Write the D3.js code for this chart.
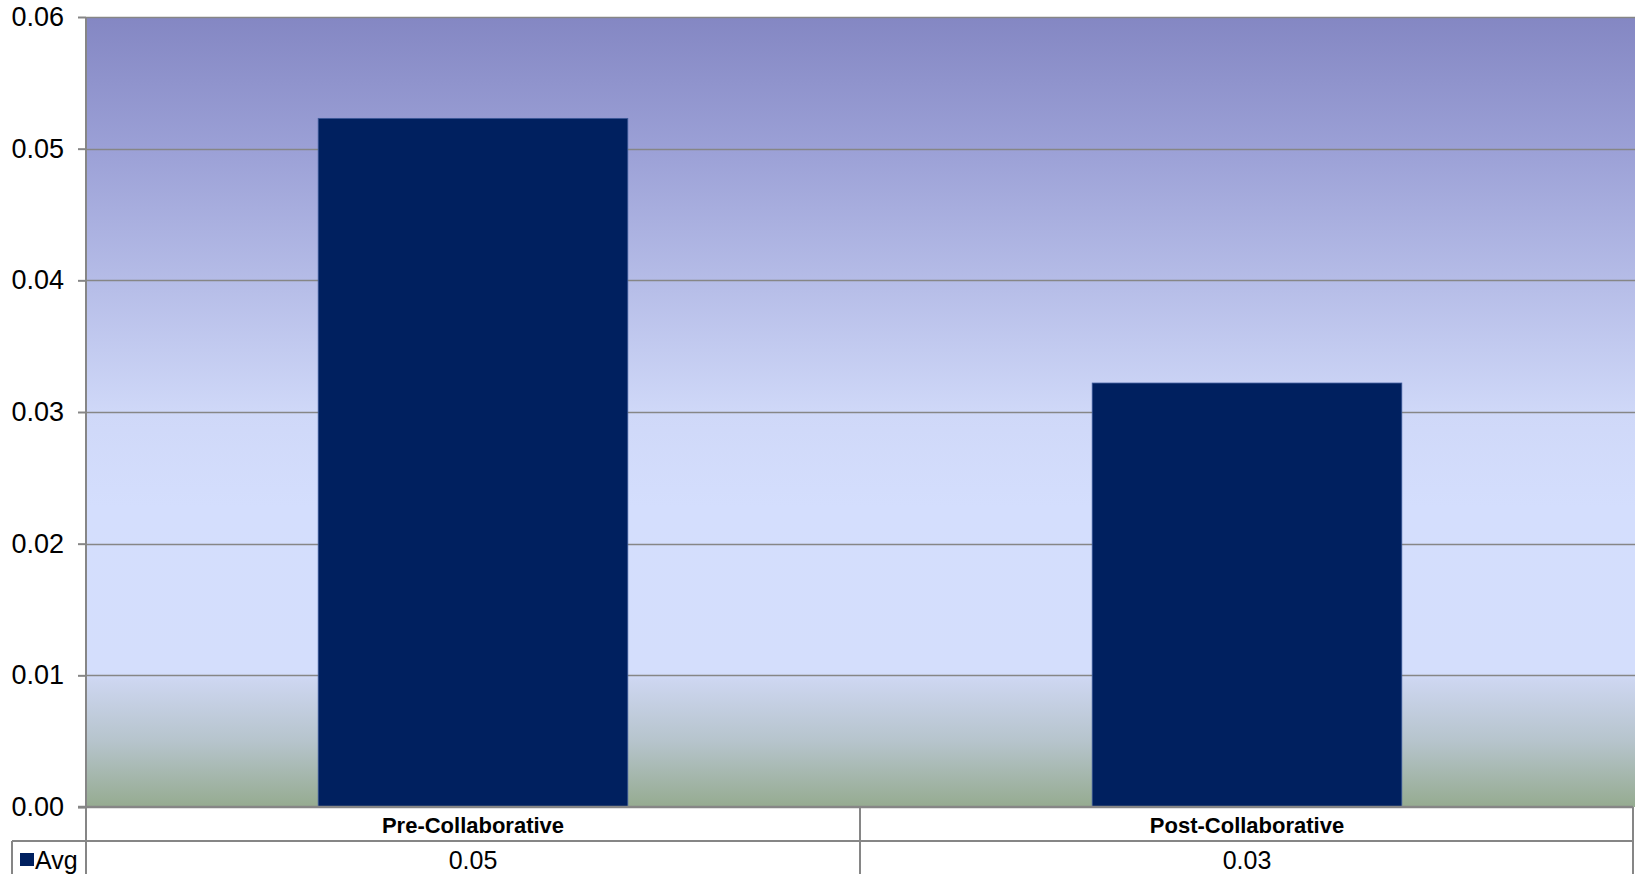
<!DOCTYPE html>
<html>
<head>
<meta charset="utf-8">
<script src="https://cdn.jsdelivr.net/npm/d3@7"></script>
<style>
  html, body { margin: 0; padding: 0; background: #ffffff; }
  svg { display: block; font-family: "Liberation Sans", Arial, sans-serif; }
</style>
</head>
<body>
<svg id="chart" width="1637" height="874"></svg>
<script>
// ---- data ----
const categories = ["Pre-Collaborative", "Post-Collaborative"];
const avgValues = [0.0523, 0.0322];
const tableValues = ["0.05", "0.03"];
const seriesName = "Avg";
const yTicks = [0, 0.01, 0.02, 0.03, 0.04, 0.05, 0.06];

// ---- layout ----
const W = 1637, H = 874;
const plotLeft = 86, plotRight = 1635, plotTop = 17, plotBottom = 807;
const tableRight = 1633, row1Bottom = 841, legendLeft = 12;
const gridColor = "#868686";
const barColor = "#00205f";

const svg = d3.select("#chart");

const y = d3.scaleLinear().domain([0, 0.06]).range([plotBottom, plotTop]);
const x = d3.scaleBand().domain(categories).range([plotLeft, plotRight - 1]).padding(0);

// background gradient
const defs = svg.append("defs");
const grad = defs.append("linearGradient").attr("id", "bg")
  .attr("x1", 0).attr("y1", 0).attr("x2", 0).attr("y2", 1);
[
  [0, "#8487c3"], [0.166, "#9ba0d6"], [0.5, "#cfd8f8"], [0.62, "#d4defd"],
  [0.83, "#d4defc"], [0.84, "#cdd6f0"], [0.917, "#b6c4cc"], [1, "#95ab90"]
].forEach(([o, c]) => grad.append("stop").attr("offset", o).attr("stop-color", c));

svg.append("rect")
  .attr("x", plotLeft).attr("y", plotTop)
  .attr("width", plotRight - plotLeft).attr("height", plotBottom - plotTop)
  .attr("fill", "url(#bg)");

// gridlines
svg.append("g").selectAll("line").data(yTicks.filter(d => d > 0)).join("line")
  .attr("x1", plotLeft).attr("x2", plotRight)
  .attr("y1", d => Math.round(y(d)) + 0.5).attr("y2", d => Math.round(y(d)) + 0.5)
  .attr("stroke", gridColor).attr("stroke-width", 1.3);

// bars
const barW = x.bandwidth() * 0.4;
svg.append("g").selectAll("rect").data(categories).join("rect")
  .attr("x", d => x(d) + (x.bandwidth() - barW) / 2)
  .attr("y", (d, i) => y(avgValues[i]))
  .attr("width", barW)
  .attr("height", (d, i) => y(0) - y(avgValues[i]))
  .attr("fill", barColor)
  .attr("stroke", "#3d5a9a").attr("stroke-width", 0.8);

// y axis
const yAxis = d3.axisLeft(y).tickValues(yTicks).tickFormat(d3.format(".2f"))
  .tickSize(8).tickPadding(14);
const ya = svg.append("g").attr("transform", `translate(${plotLeft},0)`).call(yAxis);
ya.select(".domain").remove();
ya.selectAll(".tick line").attr("stroke", gridColor).attr("stroke-width", 2);
ya.selectAll(".tick text").attr("font-size", 27).attr("fill", "#000")
  .attr("font-family", "'Liberation Sans', Arial, sans-serif");

// axis lines
svg.append("line").attr("x1", plotLeft).attr("x2", plotLeft)
  .attr("y1", plotTop).attr("y2", H)
  .attr("stroke", gridColor).attr("stroke-width", 2);
svg.append("line").attr("x1", plotLeft - 8).attr("x2", tableRight)
  .attr("y1", plotBottom).attr("y2", plotBottom)
  .attr("stroke", gridColor).attr("stroke-width", 2.5);

// data table lines
const tbl = svg.append("g").attr("stroke", gridColor).attr("stroke-width", 2);
tbl.append("line").attr("x1", legendLeft).attr("x2", tableRight)
  .attr("y1", row1Bottom).attr("y2", row1Bottom);
tbl.append("line").attr("x1", tableRight).attr("x2", tableRight)
  .attr("y1", plotBottom).attr("y2", H);
tbl.append("line").attr("x1", legendLeft).attr("x2", legendLeft)
  .attr("y1", row1Bottom).attr("y2", H);
tbl.selectAll("line.sep").data(categories.slice(1)).join("line").attr("class", "sep")
  .attr("x1", d => x(d)).attr("x2", d => x(d))
  .attr("y1", plotBottom).attr("y2", H);

// category labels
svg.append("g").selectAll("text").data(categories).join("text")
  .attr("x", d => x(d) + x.bandwidth() / 2)
  .attr("y", (plotBottom + row1Bottom) / 2 + 1)
  .attr("text-anchor", "middle").attr("dominant-baseline", "central")
  .attr("font-size", 22).attr("font-weight", "bold").attr("fill", "#000")
  .text(d => d);

// values row
svg.append("g").selectAll("text").data(categories).join("text")
  .attr("x", d => x(d) + x.bandwidth() / 2)
  .attr("y", 860)
  .attr("text-anchor", "middle").attr("dominant-baseline", "central")
  .attr("font-size", 25).attr("fill", "#000")
  .text((d, i) => tableValues[i]);

// legend key
svg.append("rect").attr("x", 20).attr("y", 853).attr("width", 14).attr("height", 13)
  .attr("fill", barColor);
svg.append("text").attr("x", 35).attr("y", 860)
  .attr("dominant-baseline", "central")
  .attr("font-size", 25).attr("fill", "#000").text(seriesName);
</script>
</body>
</html>
